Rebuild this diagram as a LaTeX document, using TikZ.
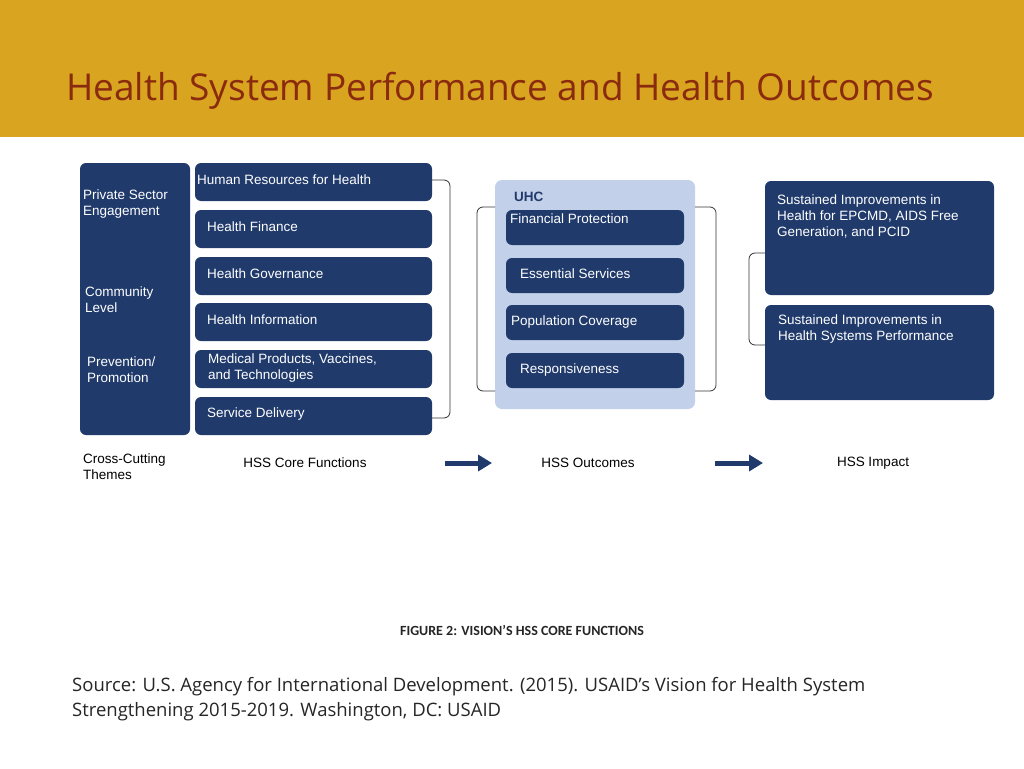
\documentclass[tikz,border=0pt]{standalone}
\usetikzlibrary{arrows.meta}
\usepackage{fontspec}
\setmainfont{Liberation Sans}
\newfontfamily\osans{Open Sans}
\newfontfamily\carl{Carlito}
\definecolor{gold}{HTML}{D9A521}
\definecolor{ttl}{HTML}{8A2A0E}
\definecolor{navy}{HTML}{203A6B}
\definecolor{lblue}{HTML}{C3D0EA}
\begin{document}
\begin{tikzpicture}[x=1pt,y=-1pt,
  nbox/.style={fill=navy,rounded corners=6pt,draw=none},
  ntxt/.style={text=white,anchor=west,font=\fontsize{13.5}{16}\selectfont,align=left,inner sep=0pt},
  lbl/.style={font=\fontsize{13.5}{16}\selectfont,align=left,inner sep=0pt},
  brk/.style={draw=black!80,line width=0.8pt,rounded corners=6pt},
  bigarrow/.style={navy,line width=5pt,-{Triangle[length=14pt,width=16pt]}}]
\useasboundingbox (0,0) rectangle (1024,768);
\fill[white] (0,0) rectangle (1024,768);
\fill[gold] (0,0) rectangle (1024,137);
\node[anchor=west,text=ttl,font=\osans\fontsize{37}{44}\selectfont,inner sep=0pt] (title) at (66,91) {Health System Performance and Health Outcomes};
% left column
\fill[nbox] (80,163) rectangle (190,435);
\node[ntxt] (pse) at (83,204) {Private Sector\\Engagement};
\node[ntxt] (cl) at (85,300) {Community\\Level};
\node[ntxt] (pp) at (87,370) {Prevention/\\Promotion};
% core functions
\foreach \a/\b in {163/201, 210/248, 257/295, 303/341, 350/388, 397/435}{
  \fill[nbox] (195,\a) rectangle (432,\b);
}
\node[ntxt] (c1) at (197,180) {Human Resources for Health};
\node[ntxt] (c2) at (207,227) {Health Finance};
\node[ntxt] (c3) at (207,274) {Health Governance};
\node[ntxt] (c4) at (207,320) {Health Information};
\node[ntxt] (c5) at (208,368) {Medical Products, Vaccines,\\and Technologies};
\node[ntxt] (c6) at (207,414) {Service Delivery};
\draw[brk] (432,180) -- (450,180) -- (450,418) -- (432,418);
% UHC
\fill[lblue,rounded corners=7pt] (495,180) rectangle (695,409);
\draw[brk] (495,207) -- (477,207) -- (477,391) -- (495,391);
\draw[brk] (695,207) -- (716,207) -- (716,391) -- (695,391);
\node[anchor=west,text=navy,font=\bfseries\fontsize{13.5}{16}\selectfont,inner sep=0pt] (uhc) at (514,197) {UHC};
\fill[nbox] (506,210) rectangle (684,245);
\fill[nbox] (506,258) rectangle (684,293);
\fill[nbox] (506,305) rectangle (684,340);
\fill[nbox] (506,353) rectangle (684,388);
\node[ntxt] (o1) at (510,219) {Financial Protection};
\node[ntxt] (o2) at (520,274) {Essential Services};
\node[ntxt] (o3) at (511,322) {Population Coverage};
\node[ntxt] (o4) at (520,370) {Responsiveness};
% impact
\draw[brk] (765,253) -- (749,253) -- (749,345) -- (765,345);
\fill[nbox] (765,181) rectangle (994,295);
\fill[nbox] (765,305) rectangle (994,400);
\node[ntxt,anchor=north west] (i1) at (777,195) {Sustained Improvements in\\Health for EPCMD, AIDS Free\\Generation, and PCID};
\node[ntxt,anchor=north west] (i2) at (778,315) {Sustained Improvements in\\Health Systems Performance};
% labels
\node[lbl,anchor=west] (l1) at (83,467) {Cross-Cutting\\Themes};
\node[lbl] (l2) at (305,463) {HSS Core Functions};
\node[lbl] (l3) at (588,463) {HSS Outcomes};
\node[lbl] (l4) at (873,463) {HSS Impact};
\coordinate (a1s) at (445,463); \coordinate (a1e) at (492,463);
\coordinate (a2s) at (715,463); \coordinate (a2e) at (763,463);
\draw[bigarrow] (a1s) -- (a1e);
\draw[bigarrow] (a2s) -- (a2e);
\node[font=\carl\bfseries\fontsize{14}{16}\selectfont,text=black!85,inner sep=0pt] (cap) at (522,630) {FIGURE 2: VISION’S HSS CORE FUNCTIONS};
\node[anchor=west,font=\osans\fontsize{18.5}{25}\selectfont,align=left,inner sep=0pt,text=black!85] (src) at (72,699) {Source: U.S. Agency for International Development. (2015). USAID’s Vision for Health System\\Strengthening 2015-2019. Washington, DC: USAID};
\end{tikzpicture}
\end{document}
